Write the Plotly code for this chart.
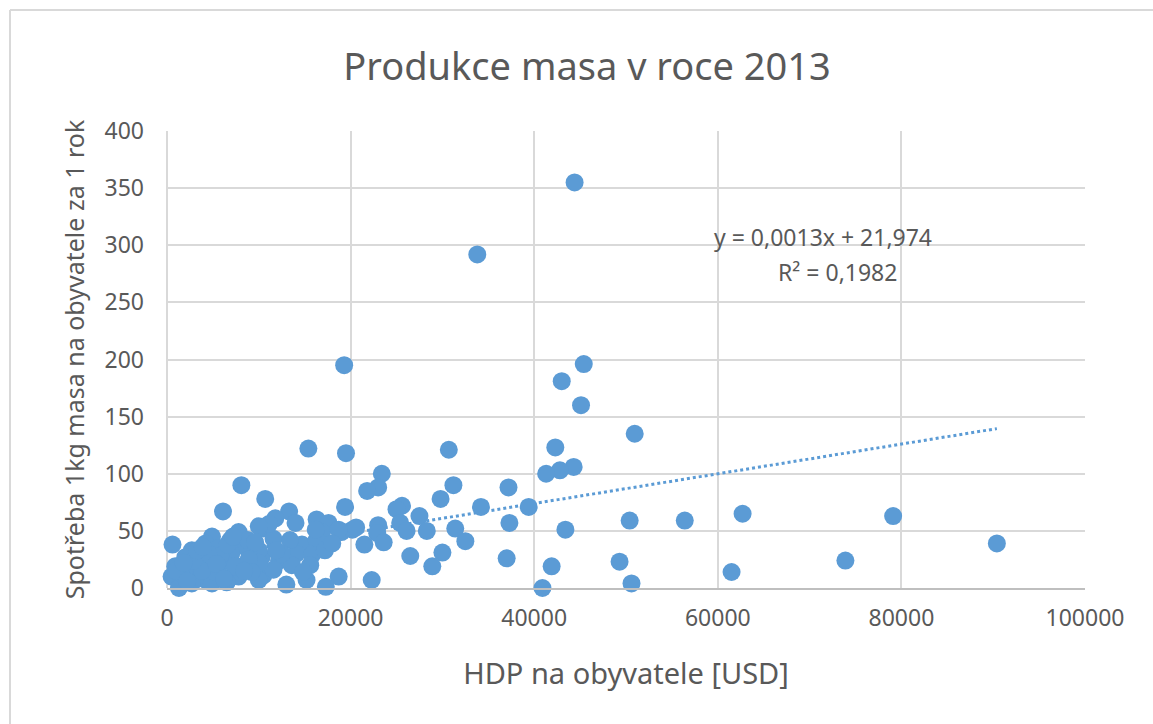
import numpy as np
import plotly.graph_objects as go

# HDP na obyvatele [USD]
gdp = [
    44400, 33800, 19300, 45400, 43000, 45100, 50950, 42300, 15400, 30700,
    19500, 23400, 44300, 42800, 41300, 8100, 31200, 37200, 23000, 21800,
    29800, 10700, 39400, 34200, 19400, 25600, 25000, 27500, 6100, 13300,
    50400, 56400, 62700, 79100, 16300, 37300, 31400, 43400, 25400, 26100,
    28300, 23000, 22900, 20200, 19000, 32500, 23600, 21500, 90400, 30000,
    49300, 37000, 73900, 28900, 41900, 61500, 50600, 40900, 22300, 18700,
    17300, 15200, 13000, 26500, 11800, 14000, 17600, 10500, 16900, 18700,
    20600, 11600, 14700, 16300, 14100, 15800, 17200, 10300, 12200, 13600,
    15600, 10500, 11600, 600, 4900, 7800, 2700, 2000, 4200, 5600,
    8500, 6900, 10000, 900, 3100, 4900, 6300, 8200, 10000, 500,
    2300, 4200, 6000, 7800, 1300, 10000, 11100, 10000, 18000, 13400,
    2700, 4900, 16200, 3500, 5200, 7000, 8900, 1500, 3800, 6500,
    9200, 2900, 5800, 7400, 8800, 4500, 3300, 1000, 6600, 9600,
    12500, 14800, 11900, 2200, 5400, 7200, 3900, 8400, 1800, 6200,
]
# Spotřeba 1kg masa na obyvatele za 1 rok
meat = [
    355, 292, 195, 196, 181, 160, 135, 123, 122, 121,
    118, 100, 106, 103, 100, 90, 90, 88, 88, 85,
    78, 78, 71, 71, 71, 72, 69, 63, 67, 67,
    59, 59, 65, 63, 60, 57, 52, 51, 57, 50,
    50, 55, 48, 51, 49, 41, 40, 38, 39, 31,
    23, 26, 24, 19, 19, 14, 4, 0, 7, 10,
    1, 7, 3, 28, 61, 57, 57, 52, 49, 51,
    53, 43, 38, 42, 30, 29, 33, 27, 24, 20,
    20, 11, 16, 38, 45, 49, 33, 27, 39, 35,
    36, 42, 33, 19, 19, 22, 24, 19, 22, 10,
    10, 7, 10, 10, 0, 7, 56, 54, 39, 42,
    4, 4, 51, 28, 14, 30, 25, 13, 15, 5,
    14, 24, 28, 19, 42, 30, 33, 15, 38, 40,
    30, 14, 33, 6, 21, 45, 36, 15, 22, 8,
]

slope = 0.0013
intercept = 21.974
eq_text = "y = 0,0013x + 21,974"
r2_text = "R² = 0,1982"

title_text = "Produkce masa v roce 2013"
x_title = "HDP na obyvatele [USD]"
y_title = "Spotřeba 1kg masa na obyvatele za 1 rok"

FONT = "Noto Sans, Open Sans, sans-serif"
BLUE = "#5B9BD5"
GREY = "#595959"
GRID = "#D9D9D9"

# page-pixel geometry (body margin removed below)
W, H = 1153, 724
L, T = 167, 131
PW, PH = 918, 457

def px(xf):
    return (xf - L) / PW

def py(yf):
    return (T + PH - yf) / PH

xt = np.array([min(gdp), max(gdp)])
yt = slope * xt + intercept

fig = go.Figure()
fig.add_trace(go.Scatter(
    x=xt, y=yt, mode="lines",
    line=dict(color=BLUE, width=3, dash="dot"),
    hoverinfo="skip", showlegend=False,
))
fig.add_trace(go.Scatter(
    x=gdp, y=meat, mode="markers",
    marker=dict(color=BLUE, size=18, line=dict(width=0)),
    showlegend=False, cliponaxis=False,
))

fig.update_layout(
    width=W, height=H,
    margin=dict(l=L, r=W - L - PW, t=T, b=H - T - PH),
    paper_bgcolor="white", plot_bgcolor="white",
    font=dict(family=FONT, color=GREY),
    title=dict(text=title_text, x=px(587), xanchor="center", xref="paper",
               y=1 - 67 / H, yanchor="middle",
               font=dict(size=38, color=GREY, family=FONT)),
    xaxis=dict(
        range=[0, 100000], dtick=20000, tick0=0,
        showgrid=True, gridcolor=GRID, gridwidth=2,
        zeroline=False, showline=True, linecolor="#BFBFBF", linewidth=2, mirror=False,
        ticks="", tickfont=dict(size=23, color=GREY), ticklabelstandoff=8,
        title=dict(text=x_title, font=dict(size=29, color=GREY), standoff=32),
        tickformat="d",
    ),
    yaxis=dict(
        range=[0, 400], dtick=50, tick0=0,
        showgrid=True, gridcolor=GRID, gridwidth=2,
        zeroline=False, showline=False,
        ticks="", tickfont=dict(size=23, color=GREY), ticklabelstandoff=22,
        title=dict(text=y_title, font=dict(size=25, color=GREY), standoff=12),
    ),
    annotations=[
        dict(x=px(823), y=py(237), xref="paper", yref="paper", xanchor="center", yanchor="middle",
             text=eq_text, showarrow=False, font=dict(size=23, color=GREY)),
        dict(x=px(837), y=py(272), xref="paper", yref="paper", xanchor="center", yanchor="middle",
             text=r2_text, showarrow=False, font=dict(size=23, color=GREY)),
    ],
    shapes=[
        dict(type="line", xref="paper", yref="paper",
             x0=px(10), x1=px(1170), y0=py(10), y1=py(10),
             line=dict(color=GRID, width=2), layer="below"),
        dict(type="line", xref="paper", yref="paper",
             x0=px(10), x1=px(10), y0=py(10), y1=py(740),
             line=dict(color=GRID, width=2), layer="below"),
        dict(type="line", xref="paper", yref="paper",
             x0=0, x1=0, y0=0, y1=1, line=dict(color=GRID, width=2), layer="below"),
    ],
)

fig.write_html(
    "out.html",
    config={"displayModeBar": False},
    post_script="document.body.style.margin='0';document.documentElement.style.overflow='hidden';document.body.style.overflow='hidden';",
)
